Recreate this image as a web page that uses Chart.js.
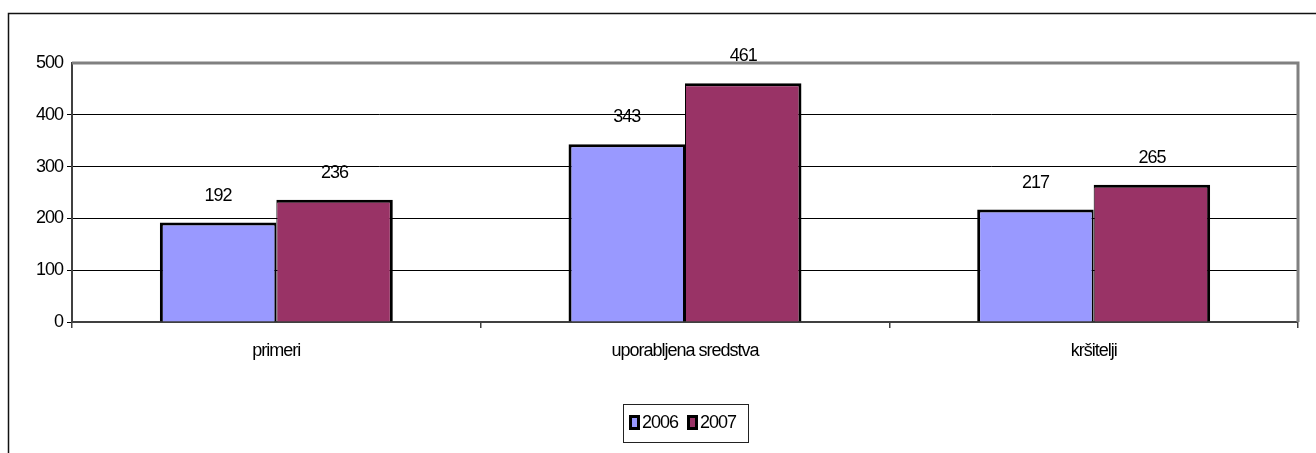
<!DOCTYPE html>
<html>
<head>
<meta charset="utf-8">
<script src="https://cdn.jsdelivr.net/npm/chart.js@4.4.0/dist/chart.umd.min.js"></script>
<style>
  html, body { margin: 0; padding: 0; background: #fff; }
  #wrap { width: 1316px; height: 453px; }
</style>
</head>
<body>
<div id="wrap"><canvas id="chart" width="1316" height="453"></canvas></div>
<script>
const categories = ['primeri', 'uporabljena sredstva', 'kršitelji'];
const years = ['2006', '2007'];
const values2006 = [192, 343, 217];
const values2007 = [236, 461, 265];
const yTicks = [0, 100, 200, 300, 400, 500];

const FONT = 'Liberation Sans, Arial, sans-serif';
const FONT_SIZE = 18;

// value labels sit under the gridlines, like the original
function drawValueLabels(chart) {
  const { ctx } = chart;
  ctx.save();
  ctx.font = FONT_SIZE + 'px ' + FONT;
  ctx.fillStyle = '#000';
  ctx.textAlign = 'center';
  ctx.textBaseline = 'middle';
  chart.data.datasets.forEach((ds, i) => {
    chart.getDatasetMeta(i).data.forEach((bar, j) => {
      ctx.fillText(String(ds.data[j]), bar.x, bar.y - 27);
    });
  });
  ctx.restore();
}

// frame of the whole chart and the grey plot-area edge
const framePlugin = {
  id: 'frame',
  beforeDraw(chart) {
    const { ctx } = chart;
    ctx.letterSpacing = '-1px'; // the original font is set tight
    ctx.save();
    ctx.strokeStyle = '#111';
    ctx.lineWidth = 1.5;
    ctx.beginPath();
    ctx.moveTo(8.5, 453);
    ctx.lineTo(8.5, 13.5);
    ctx.lineTo(1316, 13.5);
    ctx.stroke();
    ctx.restore();
    drawValueLabels(chart);
  },
  afterDraw(chart) {
    const { ctx, chartArea } = chart;
    ctx.save();
    ctx.strokeStyle = '#808080';
    ctx.lineWidth = 3;
    ctx.beginPath();
    ctx.moveTo(chartArea.left, chartArea.top);
    ctx.lineTo(chartArea.right, chartArea.top);
    ctx.lineTo(chartArea.right, chartArea.bottom);
    ctx.stroke();
    ctx.restore();
  },
};

// boxed legend under the chart
const boxLegend = {
  id: 'boxLegend',
  afterDraw(chart) {
    const { ctx } = chart;
    const x0 = 623, y0 = 404, w = 125, h = 38;
    ctx.save();
    ctx.fillStyle = '#fff';
    ctx.fillRect(x0, y0, w, h);
    ctx.strokeStyle = '#222';
    ctx.lineWidth = 1;
    ctx.strokeRect(x0 + 0.5, y0 + 0.5, w, h);
    ctx.font = FONT_SIZE + 'px ' + FONT;
    ctx.textBaseline = 'middle';
    ctx.textAlign = 'left';
    let x = 629;
    chart.data.datasets.forEach((ds) => {
      ctx.fillStyle = '#000';
      ctx.fillRect(x, 415, 11, 15);
      ctx.fillStyle = ds.backgroundColor;
      ctx.fillRect(x + 3, 418, 5, 9);
      ctx.fillStyle = '#000';
      ctx.fillText(ds.label, x + 13, 423);
      x += 58;
    });
    ctx.restore();
  },
};

new Chart(document.getElementById('chart'), {
  type: 'bar',
  data: {
    labels: categories,
    datasets: [
      {
        label: years[0],
        data: values2006,
        backgroundColor: '#9999FF',
        borderColor: '#000',
        borderWidth: { top: 3, left: 3, right: 2, bottom: 0 },
        borderSkipped: false,
      },
      {
        label: years[1],
        data: values2007,
        backgroundColor: '#993366',
        borderColor: '#000',
        borderWidth: { top: 3, left: 1, right: 3, bottom: 0 },
        borderSkipped: false,
      },
    ],
  },
  options: {
    responsive: false,
    animation: false,
    events: [],
    layout: { padding: { top: 63, right: 18, left: 0, bottom: 0 } },
    datasets: {
      bar: { categoryPercentage: 0.57, barPercentage: 1 },
    },
    plugins: {
      legend: { display: false },
      tooltip: { enabled: false },
    },
    scales: {
      x: {
        afterFit(scale) { scale.height = 131; },
        grid: {
          offset: true,
          drawOnChartArea: false,
          drawTicks: true,
          tickLength: 6,
          color: '#404040',
          lineWidth: 1.5,
        },
        border: { color: '#404040', width: 2 },
        ticks: {
          color: '#000',
          font: { family: FONT, size: FONT_SIZE },
          padding: 12,
        },
      },
      y: {
        min: 0,
        max: 500,
        afterFit(scale) { scale.width = 72; },
        afterBuildTicks(scale) { scale.ticks = yTicks.map((v) => ({ value: v })); },
        grid: {
          color: (c) => (c.tick && c.tick.value === 500 ? 'rgba(0,0,0,0)' : '#000'),
          lineWidth: 1,
          tickLength: 5,
        },
        border: { color: '#404040', width: 2 },
        ticks: {
          color: '#000',
          font: { family: FONT, size: FONT_SIZE },
          padding: 4,
        },
      },
    },
  },
  plugins: [framePlugin, boxLegend],
});
</script>
</body>
</html>
